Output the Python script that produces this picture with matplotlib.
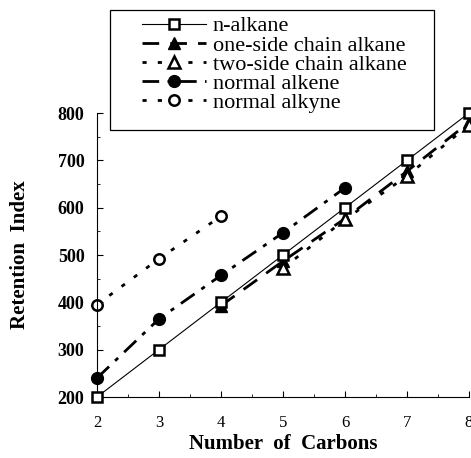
import numpy as np
import matplotlib
matplotlib.use("Agg")
import matplotlib.pyplot as plt
from matplotlib.ticker import MultipleLocator
from matplotlib.patches import Rectangle

plt.rcParams['font.family'] = ['Liberation Serif', 'DejaVu Serif']

# data
n_carbons = [2, 3, 4, 5, 6, 7, 8]
n_alkane = [200, 300, 400, 500, 600, 700, 800]

one_side_c = [4, 5, 6, 7, 8]
one_side = [393, 487, 577, 677, 780]

two_side_c = [5, 6, 7, 8]
two_side = [472, 575, 667, 775]

alkene_c = [2, 3, 4, 5, 6]
alkene = [240, 365, 457, 547, 642]

alkyne_c = [2, 3, 4]
alkyne = [395, 492, 582]

fig = plt.figure(figsize=(4.71, 4.58), dpi=100)
ax = fig.add_axes([97/471, 1-397/458, (469-97)/471, (397-113)/458])

ax.plot(n_carbons, n_alkane, color='black', lw=0.8, marker='s', ms=7.5,
        mfc='white', mec='black', mew=1.8, label='n-alkane', clip_on=False, zorder=5)
ax.plot(one_side_c, one_side, color='black', lw=2, ls=(0, (6, 4)), marker='^', ms=8,
        mfc='black', mec='black', label='one-side chain alkane', clip_on=False)
ax.plot(two_side_c, two_side, color='black', lw=2, ls=(0, (1.5, 4)), marker='^', ms=8,
        mfc='white', mec='black', mew=1.8, label='two-side chain alkane', clip_on=False)
ax.plot(alkene_c, alkene, color='black', lw=2, ls=(0, (6, 3, 1.5, 3)), marker='o', ms=8.5,
        mfc='black', mec='black', label='normal alkene', clip_on=False)
ax.plot(alkyne_c, alkyne, color='black', lw=2, ls=(0, (1.5, 4)), marker='o', ms=7.5,
        mfc='white', mec='black', mew=1.8, label='normal alkyne', clip_on=False)

ax.set_xlim(2, 8)
ax.set_ylim(200, 800)
ax.xaxis.set_major_locator(MultipleLocator(1))
ax.xaxis.set_minor_locator(MultipleLocator(0.5))
ax.yaxis.set_major_locator(MultipleLocator(100))
ax.yaxis.set_minor_locator(MultipleLocator(50))
ax.tick_params(which='both', direction='in', top=False, right=False)
ax.tick_params(which='major', length=4)
ax.tick_params(which='minor', length=2)
ax.tick_params(axis='x', labelsize=12, pad=13)
ax.tick_params(axis='y', labelsize=13, pad=9)
for lab in ax.get_yticklabels():
    lab.set_fontweight('bold')
ax.spines['top'].set_visible(False)
ax.spines['right'].set_visible(False)

ax.set_xlabel('Number  of  Carbons', fontsize=15, fontweight='bold', labelpad=2)
ax.set_ylabel('Retention  Index', fontsize=15, fontweight='bold', labelpad=20)

leg = fig.legend(loc='upper left', bbox_to_anchor=(124/471, 1+2/458),
                 fontsize=16, frameon=False,
                 handlelength=2.9, labelspacing=-0.06, borderpad=0.3, handletextpad=0.3)
fig.add_artist(Rectangle((110/471, 1-130/458), (434-110)/471, 120/458,
                         transform=fig.transFigure, fill=False, ec='black', lw=0.9))

fig.savefig('out.png', dpi=100)
